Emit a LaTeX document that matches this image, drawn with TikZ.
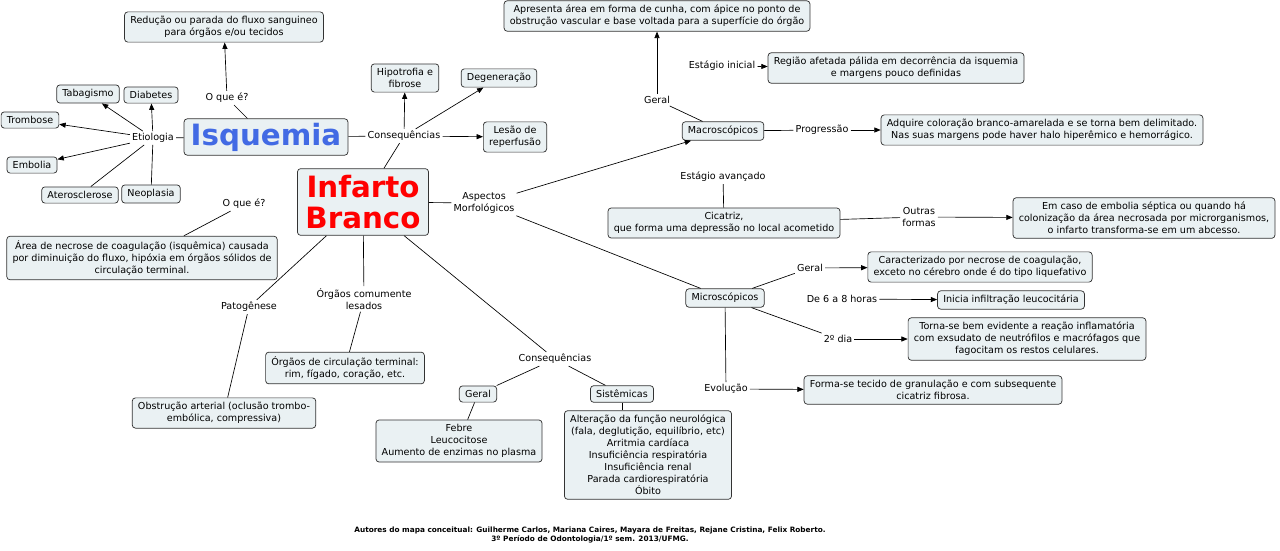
\documentclass[tikz,border=0pt]{standalone}
\usepackage{fontspec}
\setmainfont{DejaVu Sans}
\usetikzlibrary{arrows.meta}
\definecolor{boxfill}{RGB}{234,241,243}
\definecolor{isqblue}{RGB}{66,106,228}

\begin{document}
\begin{tikzpicture}[x=0.75pt,y=-0.75pt,
  >={Triangle[length=4.8pt,width=3.8pt]},
  box/.style={draw=black!80,fill=boxfill,rounded corners=2.4pt,line width=0.55pt,align=center,
    font=\fontsize{7.2}{9}\selectfont,inner xsep=4.3pt,inner ysep=3.3pt},
  big/.style={box,font=\bfseries\fontsize{22}{23}\selectfont},
  lab/.style={align=center,font=\fontsize{7.2}{9}\selectfont,inner sep=1.5pt},
  e/.style={draw=black,line width=0.5pt},
  ar/.style={e,->}]
  \useasboundingbox (0,0) rectangle (1280,550);
  % isquemia
  \node[big,text=isqblue,inner xsep=5pt,inner ysep=3pt] (isq) at (266,137) {Isquemia};
  \node[box] (reduc) at (224,27) {Redução ou parada do fluxo sanguineo\\para órgãos e/ou tecidos};
  \node[lab] (oq1) at (227,98) {O que é?};
  \node[lab] (etio) at (153,138) {Etiologia};
  \node[box] (tabag) at (88,94) {Tabagismo};
  \node[box] (diab) at (151,95) {Diabetes};
  \node[box] (tromb) at (30,120) {Trombose};
  \node[box] (embol) at (32,165) {Embolia};
  \node[box] (ateros) at (80,195) {Aterosclerose};
  \node[box] (neopl) at (151,194) {Neoplasia};
  \node[lab] (cons1) at (404,136) {Consequências};
  \node[box] (hipo) at (405,78) {Hipotrofia e\\fibrose};
  \node[box] (degen) at (499,78) {Degeneração};
  \node[box] (lesao) at (515,137) {Lesão de\\reperfusão};
  % infarto branco
  \node[big,text=red,inner xsep=6pt,inner ysep=5pt] (inf) at (363,202) {Infarto\\Branco};
  \node[lab] (oq2) at (244,204) {O que é?};
  \node[box] (areadef) at (142,258) {Área de necrose de coagulação (isquêmica) causada\\por diminuição do fluxo, hipóxia em órgãos sólidos de\\circulação terminal.};
  \node[lab] (pato) at (249,307) {Patogênese};
  \node[box] (obstr) at (224,413) {Obstrução arterial (oclusão trombo-\\embólica, compressiva)};
  \node[lab] (orgl) at (364,299) {Órgãos comumente\\lesados};
  \node[box] (orgb) at (345,368) {Órgãos de circulação terminal:\\rim, fígado, coração, etc.};
  \node[lab] (cons2) at (555,359) {Consequências};
  \node[box] (geralc) at (478,394) {Geral};
  \node[box] (sist) at (622,394) {Sistêmicas};
  \node[box] (febre) at (459,441) {Febre\\Leucocitose\\Aumento de enzimas no plasma};
  \node[box] (slist) at (648,455) {Alteração da função neurológica\\(fala, deglutição, equilíbrio, etc)\\Arritmia cardíaca\\Insuficiência respiratória\\Insuficiência renal\\Parada cardiorespiratória\\Óbito};
  % aspectos morfologicos
  \node[lab] (asp) at (484,203) {Aspectos\\Morfológicos};
  \node[box] (macro) at (723,131) {Macroscópicos};
  \node[lab] (geralma) at (657,100) {Geral};
  \node[box] (cunha) at (657,16) {Apresenta área em forma de cunha, com ápice no ponto de\\obstrução vascular e base voltada para a superfície do órgão};
  \node[lab] (estini) at (722,66) {Estágio inicial};
  \node[box] (regiao) at (896,68) {Região afetada pálida em decorrência da isquemia\\e margens pouco definidas};
  \node[lab] (progr) at (822,130) {Progressão};
  \node[box] (adq) at (1042,130) {Adquire coloração branco-amarelada e se torna bem delimitado.\\Nas suas margens pode haver halo hiperêmico e hemorrágico.};
  \node[lab] (estav) at (723,177) {Estágio avançado};
  \node[box] (cicat) at (724,223) {Cicatriz,\\que forma uma depressão no local acometido};
  \node[lab] (outras) at (919,217) {Outras\\formas};
  \node[box] (abcesso) at (1144,218) {Em caso de embolia séptica ou quando há\\colonização da área necrosada por microrganismos,\\o infarto transforma-se em um abcesso.};
  \node[box] (micro) at (725,298) {Microscópicos};
  \node[lab] (geralmi) at (810,268) {Geral};
  \node[box] (caract) at (980,267) {Caracterizado por necrose de coagulação,\\exceto no cérebro onde é do tipo liquefativo};
  \node[lab] (seis) at (842,299) {De 6 a 8 horas};
  \node[box] (inicia) at (1011,300) {Inicia infiltração leucocitária};
  \node[lab] (dia2) at (838,339) {2º dia};
  \node[box] (torna) at (1027,339) {Torna-se bem evidente a reação inflamatória\\com exsudato de neutrófilos e macrófagos que\\fagocitam os restos celulares.};
  \node[lab] (evol) at (726,389) {Evolução};
  \node[box] (forma) at (933,390) {Forma-se tecido de granulação e com subsequente\\cicatriz fibrosa.};
  \node[font=\bfseries\fontsize{5.5}{6.8}\selectfont,align=center] (autores) at (590,535)
    {Autores do mapa conceitual: Guilherme Carlos, Mariana Caires, Mayara de Freitas, Rejane Cristina, Felix Roberto.\\3º Período de Odontologia/1º sem. 2013/UFMG.};
  % links
  \draw[e] (isq) -- (oq1); \draw[ar] (oq1) -- (reduc);
  \draw[e] (isq) -- (etio);
  \foreach \t in {tabag,diab,tromb,embol} \draw[ar] (etio) -- (\t);
  \foreach \t in {ateros,neopl} \draw[e] (etio) -- (\t);
  \draw[e] (isq) -- (cons1); \draw[e] (inf) -- (cons1);
  \foreach \t in {hipo,degen,lesao} \draw[ar] (cons1) -- (\t);
  \draw[e] (oq2) -- (areadef);
  \draw[e] (inf) -- (pato); \draw[e] (pato) -- (obstr);
  \draw[e] (inf) -- (orgl); \draw[e] (orgl) -- (orgb);
  \draw[e] (inf) -- (cons2); \draw[e] (cons2) -- (geralc); \draw[e] (cons2) -- (sist);
  \draw[e] (geralc) -- (febre); \draw[e] (sist.south) -- (sist.south |- slist.north);
  \draw[e] (inf) -- (asp); \draw[ar] (asp) -- (macro); \draw[e] (asp) -- (micro);
  \draw[e] (macro) -- (geralma); \draw[ar] (geralma) -- (cunha);
  \draw[ar] (estini) -- (regiao);
  \draw[e] (macro) -- (progr); \draw[ar] (progr) -- (adq);
  \draw[e] (estav) -- (cicat);
  \draw[e] (cicat) -- (outras); \draw[ar] (outras) -- (abcesso);
  \draw[e] (micro) -- (geralmi); \draw[ar] (geralmi) -- (caract);
  \draw[ar] (seis) -- (inicia);
  \draw[e] (micro) -- (dia2); \draw[ar] (dia2) -- (torna);
  \draw[e] (micro) -- (evol); \draw[ar] (evol) -- (forma);
\end{tikzpicture}
\end{document}
